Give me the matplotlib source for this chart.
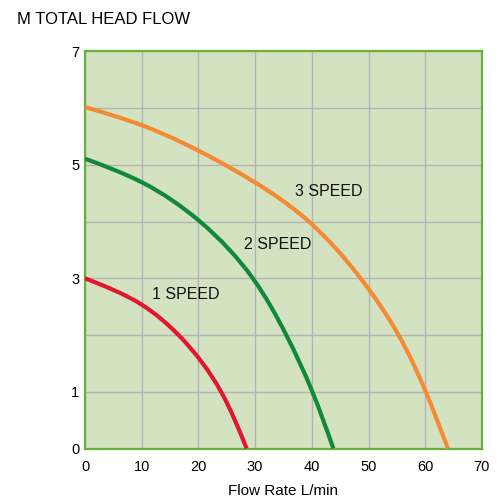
import matplotlib
matplotlib.use("Agg")
import numpy as np
import matplotlib.pyplot as plt
from matplotlib.path import Path
from matplotlib.patches import PathPatch

# pump curves (flow L/min, head m)
flow_1 = [0, 10.1, 16.5, 24.0, 28.5]
head_1 = [3.0, 2.53, 2.0, 1.0, 0]

flow_2 = [0, 10.1, 20.3, 29.6, 35.5, 40.1, 43.8]
head_2 = [5.11, 4.69, 4.0, 3.0, 2.0, 1.0, 0]

flow_3 = [0, 10.0, 24.7, 39.5, 48.6, 55.3, 60.1, 64.0]
head_3 = [6.02, 5.70, 5.0, 4.0, 3.0, 2.0, 1.0, 0]

speed_labels = ["1 SPEED", "2 SPEED", "3 SPEED"]
label_pos = [(11.9, 2.71), (28.1, 3.60), (37.0, 4.54)]

x_ticks = [0, 10, 20, 30, 40, 50, 60, 70]
y_ticks = [0, 1, 3, 5, 7]


def spline_ctrl(t, v):
    # natural cubic spline -> bezier control points per segment
    n = len(t)
    h = np.diff(t)
    A = np.zeros((n, n))
    r = np.zeros(n)
    A[0, 0] = A[-1, -1] = 1
    for i in range(1, n - 1):
        A[i, i - 1] = h[i - 1]
        A[i, i] = 2 * (h[i - 1] + h[i])
        A[i, i + 1] = h[i]
        r[i] = 6 * ((v[i + 1] - v[i]) / h[i] - (v[i] - v[i - 1]) / h[i - 1])
    M = np.linalg.solve(A, r)
    out = []
    for i in range(n - 1):
        s = (v[i + 1] - v[i]) / h[i]
        d0 = s - h[i] * (2 * M[i] + M[i + 1]) / 6
        d1 = s + h[i] * (M[i] + 2 * M[i + 1]) / 6
        out.append((v[i] + d0 * h[i] / 3, v[i + 1] - d1 * h[i] / 3))
    return out


def smooth_path(xs, ys):
    xs = np.asarray(xs, float)
    ys = np.asarray(ys, float)
    seg = np.hypot(np.diff(xs) / 70, np.diff(ys) / 7)
    t = np.concatenate([[0], np.cumsum(seg)])
    cx = spline_ctrl(t, xs)
    cy = spline_ctrl(t, ys)
    verts = [(xs[0], ys[0])]
    codes = [Path.MOVETO]
    for i in range(len(xs) - 1):
        verts += [(cx[i][0], cy[i][0]), (cx[i][1], cy[i][1]), (xs[i + 1], ys[i + 1])]
        codes += [Path.CURVE4] * 3
    return Path(verts, codes)


plt.rcParams["font.family"] = ["Liberation Sans", "DejaVu Sans"]
narrow = ["Liberation Sans Narrow", "Liberation Sans", "DejaVu Sans"]

fig = plt.figure(figsize=(4.98, 4.99), dpi=100)
ax = fig.add_axes([0.1707, 0.1012, 0.797, 0.7956])
ax.set_facecolor("#d3e3c1")

for xs, ys, col in [(flow_1, head_1, "#e2172d"),
                    (flow_2, head_2, "#11883a"),
                    (flow_3, head_3, "#f48a32")]:
    ax.add_patch(PathPatch(smooth_path(xs, ys), fill=False, edgecolor=col,
                           lw=3, capstyle="butt", zorder=3))

for txt, (lx, ly) in zip(speed_labels, label_pos):
    ax.text(lx, ly, txt, fontsize=11.5, family=narrow, color="#111111",
            ha="left", va="center", zorder=4)

ax.set_xlim(0, 70)
ax.set_ylim(0, 7)
ax.set_xticks(x_ticks)
ax.set_yticks(y_ticks)
ax.set_yticks(range(8), minor=True)
ax.grid(True, which="both", color="#b4b4b4", lw=1)
ax.set_axisbelow(True)
ax.tick_params(which="both", length=0)
ax.tick_params(axis="x", pad=8, labelsize=10.5)
ax.tick_params(axis="y", pad=4, labelsize=10.5)
for lab in ax.get_xticklabels() + ax.get_yticklabels():
    lab.set_family(narrow)

for s in ax.spines.values():
    s.set_color("#6aae3c")
    s.set_linewidth(1.6)

ax.set_xlabel("Flow Rate L/min", fontsize=11, va="baseline")
ax.xaxis.set_label_coords(0.5, -0.118)
fig.text(0.034, 0.96, "M TOTAL HEAD FLOW", fontsize=12, ha="left", va="center")

fig.savefig("out.png", dpi=100)
